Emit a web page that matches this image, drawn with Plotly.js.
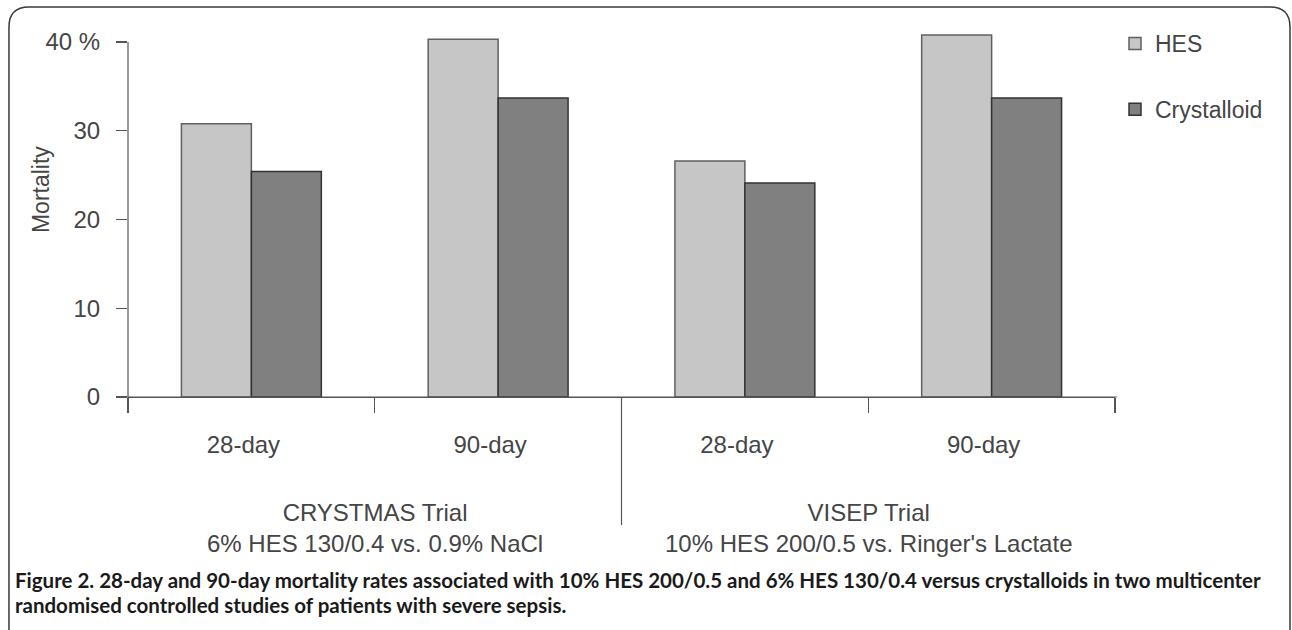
<!DOCTYPE html>
<html>
<head>
<meta charset="utf-8">
<script src="https://cdn.plot.ly/plotly-3.0.1.min.js"></script>
<style>
  html, body { margin: 0; padding: 0; background: #ffffff; }
  #chart { width: 1292px; height: 630px; }
</style>
</head>
<body>
<div id="chart"></div>
<script>
// ---- data ----
var categories = ["CRYSTMAS 28-day", "CRYSTMAS 90-day", "VISEP 28-day", "VISEP 90-day"];
var tickLabels = ["28-day", "90-day", "28-day", "90-day"];
var hesValues = [30.8, 40.3, 26.6, 40.8];
var crystalloidValues = [25.4, 33.7, 24.1, 33.7];
var yTickVals = [0, 10, 20, 30, 40];
var yTickText = ["0", "10", "20", "30", "40 %"];
var trialLabels = [
  "CRYSTMAS Trial<br>6% HES 130/0.4 vs. 0.9% NaCl",
  "VISEP Trial<br>10% HES 200/0.5 vs. Ringer's Lactate"
];
var trialCenters = [0.5, 2.5];
var captionLines = [
  "Figure 2. 28-day and 90-day mortality rates associated with 10% HES 200/0.5 and 6% HES 130/0.4 versus crystalloids in two multicenter",
  "randomised controlled studies of patients with severe sepsis."
];

var FONT = "Liberation Sans, Arial, sans-serif";
var CAPFONT = "Lato, Liberation Sans, Arial, sans-serif";
var TXT = "#454545";
var AX = "#555555";

var traces = [
  {
    type: "bar", name: "HES", x: categories, y: hesValues,
    marker: { color: "#c6c6c6", line: { color: "#606060", width: 1.5 } },
    legendgroup: "a", hoverinfo: "skip"
  },
  {
    type: "bar", name: "Crystalloid", x: categories, y: crystalloidValues,
    marker: { color: "#808080", line: { color: "#333333", width: 1.5 } },
    legendgroup: "b", hoverinfo: "skip"
  }
];

// frame (rounded border) in paper coordinates
var px0 = -0.1206, px1 = 1.1773, pyTop = 1.0656, pyBot = -0.68;
var rx = 0.0203, ry = 0.0546;
var framePath = "M" + px0 + "," + pyBot + " L" + px0 + "," + (pyTop - ry) +
  " Q" + px0 + "," + pyTop + " " + (px0 + rx) + "," + pyTop +
  " L" + (px1 - rx) + "," + pyTop +
  " Q" + px1 + "," + pyTop + " " + px1 + "," + (pyTop - ry) +
  " L" + px1 + "," + pyBot;

var annotations = [
  {
    text: "Mortality", textangle: -90, xref: "paper", yref: "paper",
    x: -0.0881, y: 0.5656, xanchor: "center", yanchor: "middle", showarrow: false,
    font: { family: FONT, size: 23, color: TXT }
  },
  {
    text: captionLines[0], xref: "paper", yref: "paper",
    x: -0.1165, y: -0.4987, xanchor: "left", yanchor: "middle", showarrow: false,
    font: { family: CAPFONT, size: 20.5, color: "#1a1a1a", weight: "bold" }
  },
  {
    text: captionLines[1], xref: "paper", yref: "paper",
    x: -0.1165, y: -0.5670, xanchor: "left", yanchor: "middle", showarrow: false,
    font: { family: CAPFONT, size: 20.5, color: "#1a1a1a", weight: "bold" }
  }
];
for (var i = 0; i < trialLabels.length; i++) {
  annotations.push({
    text: trialLabels[i], xref: "x", yref: "paper",
    x: trialCenters[i], y: -0.3566, xanchor: "center", yanchor: "middle",
    showarrow: false, align: "center",
    font: { family: FONT, size: 24, color: TXT }
  });
}

var layout = {
  width: 1292, height: 630,
  margin: { l: 128, r: 177, t: 31, b: 233 },
  paper_bgcolor: "#ffffff", plot_bgcolor: "#ffffff",
  font: { family: FONT, size: 24, color: TXT },
  barmode: "group", bargap: 0.433, bargroupgap: 0,
  showlegend: true,
  legend: {
    x: 1.0, y: 1.0246, xanchor: "left", yanchor: "top",
    traceorder: "grouped", tracegroupgap: 33,
    font: { family: FONT, size: 23, color: TXT },
    bgcolor: "rgba(0,0,0,0)", itemwidth: 30
  },
  xaxis: {
    type: "category", tickmode: "array", tickvals: categories, ticktext: tickLabels,
    tickson: "boundaries", ticks: "outside", ticklen: 15, tickwidth: 1.2, tickcolor: AX,
    showline: true, linecolor: AX, linewidth: 1.2,
    showgrid: false, zeroline: false, ticklabelstandoff: 26, ticklabelshift: -8,
    tickfont: { family: FONT, size: 24, color: TXT }
  },
  yaxis: {
    range: [0, 41.24], tickmode: "array", tickvals: yTickVals, ticktext: yTickText,
    ticks: "outside", ticklen: 11, tickwidth: 1.2, tickcolor: AX,
    showline: false, showgrid: false, zeroline: false, ticklabelstandoff: 11,
    tickfont: { family: FONT, size: 24, color: TXT }
  },
  shapes: [
    { type: "line", xref: "paper", yref: "y", x0: 0, x1: 0, y0: 0, y1: 40,
      line: { color: AX, width: 1.2 } },
    { type: "line", xref: "paper", yref: "paper", x0: -0.0111, x1: 1.002, y0: 0, y1: 0,
      line: { color: AX, width: 1.2 } },
    { type: "line", xref: "x", yref: "paper", x0: 1.5, x1: 1.5, y0: 0, y1: -0.35,
      line: { color: AX, width: 1.2 } },
    { type: "path", xref: "paper", yref: "paper", path: framePath,
      line: { color: "#3a3a3a", width: 1.5 } }
  ],
  annotations: annotations
};

Plotly.newPlot("chart", traces, layout, { staticPlot: true, displayModeBar: false });
</script>
</body>
</html>
